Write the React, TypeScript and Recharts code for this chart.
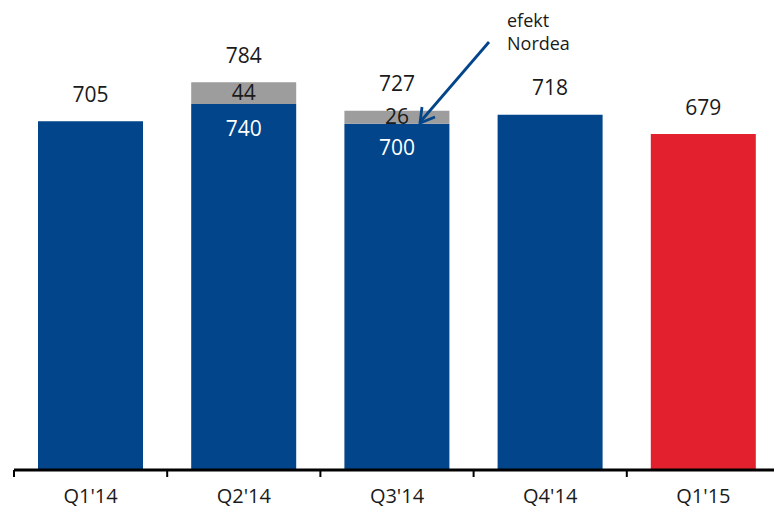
import { BarChart, Bar, XAxis, YAxis, Cell, LabelList } from "recharts";

const quarters = ["Q1'14", "Q2'14", "Q3'14", "Q4'14", "Q1'15"];
const organic = [705, 740, 700, 718, 679];
const nordeaEffect = [0, 44, 26, 0, 0];
const totals = [705, 784, 727, 718, 679];

const data = quarters.map((q, i) => ({
  quarter: q,
  organic: organic[i],
  nordea: nordeaEffect[i],
}));

const WIDTH = 780;
const HEIGHT = 514;
const LEFT = 14;
const BAND = (WIDTH - LEFT) / quarters.length;

const BLUE = "#02458a";
const RED = "#e3202d";
const GREY = "#9d9d9d";
const INK = "#1a1a1a";
const FONT = "'Open Sans', sans-serif";

function QuarterTick(props: any) {
  const { x, y, payload } = props;
  return (
    <g>
      <line x1={x - BAND / 2} x2={x - BAND / 2} y1={y} y2={y + 7} stroke="#000" strokeWidth={2} />
      <text x={x} y={y + 28} textAnchor="middle" dominantBaseline="middle" fontSize={20} fill={INK} fontFamily={FONT}>
        {payload.value}
      </text>
    </g>
  );
}

// organic value inside the bar (only where Nordea adds on top) plus the stack total above
function OrganicLabel(props: any) {
  const { x, y, width, height, index, value } = props;
  const cx = x + width / 2;
  const extra = nordeaEffect[index];
  const pxPerUnit = height / value;
  const stackTop = y - extra * pxPerUnit;
  return (
    <g>
      <text x={cx} y={stackTop - 25} textAnchor="middle" dominantBaseline="middle" fontSize={21} fill={INK} fontFamily={FONT}>
        {totals[index]}
      </text>
      {extra > 0 && (
        <text x={cx} y={y + 26} textAnchor="middle" dominantBaseline="middle" fontSize={21} fill="#ffffff" fontFamily={FONT}>
          {value}
        </text>
      )}
    </g>
  );
}

function NordeaLabel(props: any) {
  const { x, y, width, height, value } = props;
  if (!(value > 0)) return null;
  return (
    <text x={x + width / 2} y={y + height / 2 + 1} textAnchor="middle" dominantBaseline="middle" fontSize={21} fill={INK} fontFamily={FONT}>
      {value}
    </text>
  );
}

export default function App() {
  return (
    <div style={{ position: "absolute", left: 0, top: 0, width: 774, height: 514, overflow: "hidden", background: "#fff" }}>
      <BarChart
        width={WIDTH}
        height={HEIGHT}
        data={data}
        margin={{ top: 0, right: 0, bottom: 0, left: LEFT }}
        barSize={105}
      >
        <XAxis
          dataKey="quarter"
          height={HEIGHT - 470}
          tickLine={false}
          tickSize={0}
          tickMargin={0}
          axisLine={{ stroke: "#000", strokeWidth: 3 }}
          tick={<QuarterTick />}
          interval={0}
        />
        <YAxis hide domain={[0, 950]} />
        <Bar dataKey="organic" stackId="q" isAnimationActive={false}>
          {data.map((d, i) => (
            <Cell key={d.quarter} fill={i === data.length - 1 ? RED : BLUE} />
          ))}
          <LabelList dataKey="organic" content={<OrganicLabel />} />
        </Bar>
        <Bar dataKey="nordea" stackId="q" fill={GREY} isAnimationActive={false}>
          <LabelList dataKey="nordea" content={<NordeaLabel />} />
        </Bar>
      </BarChart>
      {/* annotation pointing at the Nordea part of Q3'14 */}
      <svg width={774} height={514} style={{ position: "absolute", left: 0, top: 0, pointerEvents: "none" }}>
        <line x1={489} y1={42} x2={421} y2={121} stroke={BLUE} strokeWidth={2.8} />
        <polyline points="422,107 420,123 435,117" fill="none" stroke={BLUE} strokeWidth={2.8} />
        <text x={507} y={22} dominantBaseline="middle" fontSize={18} fill={INK} fontFamily={FONT}>efekt</text>
        <text x={507} y={45} dominantBaseline="middle" fontSize={18} fill={INK} fontFamily={FONT}>Nordea</text>
      </svg>
    </div>
  );
}
